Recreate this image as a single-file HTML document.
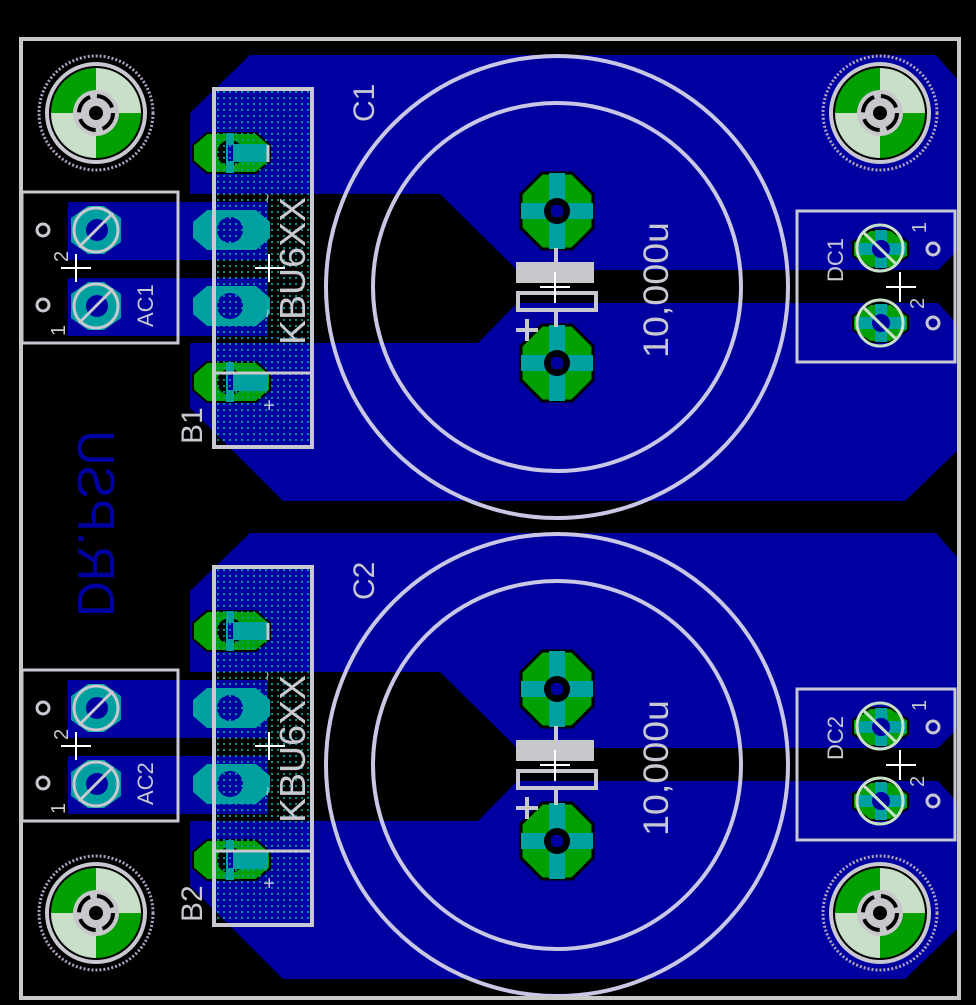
<!DOCTYPE html>
<html><head><meta charset="utf-8"><style>
html,body{margin:0;padding:0;background:#000;}
svg{display:block;}
text{font-family:"Liberation Sans",sans-serif;}
</style></head><body>
<svg width="976" height="1005" viewBox="0 0 976 1005" xmlns="http://www.w3.org/2000/svg">
<defs>
<pattern id="st" width="6" height="6" patternUnits="userSpaceOnUse">
<rect x="1" y="1" width="2" height="2" fill="#00a0a0"/>
</pattern>
</defs>
<rect width="976" height="1005" fill="#000"/>

<!-- ===== HALF 1 ===== -->
<g>
<polygon fill="#0000a0" points="250,55 936,55 958,80 958,250 938,270 517,270 440,194 190,194 190,113"/>
<polygon fill="#0000a0" points="517,303 938,303 958,325 958,450 905,501 283,501 190,408 190,343 478,343"/>
<rect x="68" y="202" width="200" height="58" fill="#0000a0"/>
<rect x="68" y="278" width="200" height="58" fill="#0000a0"/>
<g>
<polygon points="207,133 256,133 270,145 270,161 256,173 207,173 193,161 193,145" fill="#00a000" stroke="#000" stroke-width="2"/>
<polygon points="207,210 256,210 270,222 270,238 256,250 207,250 193,238 193,222" fill="#00a0a0"/>
<polygon points="207,286 256,286 270,298 270,314 256,326 207,326 193,314 193,298" fill="#00a0a0"/>
<polygon points="207,362 256,362 270,374 270,390 256,402 207,402 193,390 193,374" fill="#00a000" stroke="#000" stroke-width="2"/>
<circle cx="230" cy="153" r="13" fill="#000"/>
<circle cx="230" cy="230" r="13" fill="#0000a0"/>
<circle cx="230" cy="306" r="13" fill="#0000a0"/>
<circle cx="230" cy="382" r="13" fill="#000"/>
<rect x="226" y="133" width="8" height="40" fill="#00a0a0"/>
<rect x="226" y="144" width="42" height="18" fill="#00a0a0"/>
<rect x="226" y="362" width="8" height="40" fill="#00a0a0"/>
<rect x="226" y="373" width="42" height="18" fill="#00a0a0"/>
<rect x="228" y="145" width="5" height="16" fill="#0000a0"/>
<rect x="228" y="374" width="5" height="16" fill="#0000a0"/>
</g>
<rect x="214" y="89" width="98" height="358" fill="url(#st)" opacity="0.9"/>
<rect x="214" y="89" width="98" height="358" fill="none" stroke="#c8c8d0" stroke-width="4"/>
<line x1="214" y1="373" x2="312" y2="373" stroke="#c8c8d0" stroke-width="3"/>
<line x1="268" y1="145" x2="268" y2="162" stroke="#c8c8d0" stroke-width="3"/>
<text transform="translate(305,345) rotate(-90)" font-size="36" fill="#c8c8d0" textLength="148" lengthAdjust="spacingAndGlyphs">KBU6XX</text>
<text transform="translate(273,203) rotate(-90)" font-size="16" fill="#c8c8d0">~</text>
<text transform="translate(273,318) rotate(-90)" font-size="16" fill="#c8c8d0">~</text>
<text transform="translate(276,411) rotate(-90)" font-size="20" fill="#c8c8d0">+</text>
<text transform="translate(202,444) rotate(-90)" font-size="30" fill="#c8c8d0">B1</text>
<line x1="255" y1="268" x2="285" y2="268" stroke="#fff" stroke-width="2"/>
<line x1="269" y1="254" x2="269" y2="282" stroke="#fff" stroke-width="2"/>

<rect x="22" y="192" width="156" height="151" fill="none" stroke="#c8c8d0" stroke-width="3"/>
<g>
<polygon points="85,203 107,203 124,216 124,244 107,257 85,257 68,244 68,216" fill="#0000a0"/>
<polygon points="88,206 104,206 121,218 121,242 104,254 88,254 71,242 71,218" fill="#00a0a0"/>
<circle cx="97" cy="230" r="11" fill="#0000a0"/>
<circle cx="96" cy="230" r="22" fill="none" stroke="#c8c8d0" stroke-width="3"/>
<line x1="79" y1="247" x2="113" y2="213" stroke="#c8c8d0" stroke-width="3"/>
<polygon points="85,279 107,279 124,292 124,320 107,333 85,333 68,320 68,292" fill="#0000a0"/>
<polygon points="88,282 104,282 121,294 121,318 104,330 88,330 71,318 71,294" fill="#00a0a0"/>
<circle cx="97" cy="306" r="11" fill="#0000a0"/>
<circle cx="96" cy="306" r="22" fill="none" stroke="#c8c8d0" stroke-width="3"/>
<line x1="79" y1="323" x2="113" y2="289" stroke="#c8c8d0" stroke-width="3"/>
</g>
<circle cx="43" cy="230" r="6" fill="none" stroke="#c8c8d0" stroke-width="3"/>
<circle cx="43" cy="305" r="6" fill="none" stroke="#c8c8d0" stroke-width="3"/>
<text transform="translate(68,262) rotate(-90)" font-size="20" fill="#c8c8d0">2</text>
<text transform="translate(65,336) rotate(-90)" font-size="20" fill="#c8c8d0">1</text>
<text transform="translate(153,327) rotate(-90)" font-size="22" fill="#c8c8d0">AC1</text>
<line x1="61" y1="268" x2="91" y2="268" stroke="#fff" stroke-width="2"/>
<line x1="76" y1="254" x2="76" y2="282" stroke="#fff" stroke-width="2"/>

<circle cx="557" cy="287" r="231" fill="none" stroke="#c8c8e6" stroke-width="4"/>
<circle cx="557" cy="287" r="184" fill="none" stroke="#c8c8e6" stroke-width="4"/>
<g>
<polygon points="542,173 572,173 593,194 593,228 572,249 542,249 521,228 521,194" fill="#00a000" stroke="#000" stroke-width="3"/>
<rect x="521" y="203" width="72" height="16" fill="#00a0a0"/>
<rect x="549" y="173" width="16" height="76" fill="#00a0a0"/>
<circle cx="557" cy="211" r="13" fill="#000"/>
<rect x="553" y="205" width="8" height="12" fill="#0000a0"/><rect x="551" y="207" width="12" height="8" fill="#0000a0"/>
<polygon points="542,325 572,325 593,346 593,380 572,401 542,401 521,380 521,346" fill="#00a000" stroke="#000" stroke-width="3"/>
<rect x="521" y="355" width="72" height="16" fill="#00a0a0"/>
<rect x="549" y="325" width="16" height="76" fill="#00a0a0"/>
<circle cx="557" cy="363" r="13" fill="#000"/>
<rect x="553" y="357" width="8" height="12" fill="#0000a0"/><rect x="551" y="359" width="12" height="8" fill="#0000a0"/>
</g>
<rect x="516" y="262" width="78" height="21" fill="#c8c8cc"/>
<rect x="518" y="293" width="78" height="17" fill="none" stroke="#c8c8d0" stroke-width="4"/>
<line x1="556" y1="248" x2="556" y2="262" stroke="#c8c8d0" stroke-width="4"/>
<line x1="556" y1="311" x2="556" y2="327" stroke="#c8c8d0" stroke-width="4"/>
<line x1="540" y1="287" x2="570" y2="287" stroke="#fff" stroke-width="2"/>
<line x1="555" y1="272" x2="555" y2="303" stroke="#fff" stroke-width="2"/>
<line x1="516" y1="330" x2="538" y2="330" stroke="#c8c8d0" stroke-width="4"/>
<line x1="527" y1="319" x2="527" y2="341" stroke="#c8c8d0" stroke-width="4"/>
<text transform="translate(668,358) rotate(-90)" font-size="35" fill="#c8c8d0" textLength="136" lengthAdjust="spacingAndGlyphs">10,000u</text>
<text transform="translate(374,122) rotate(-90)" font-size="30" fill="#c8c8d0">C1</text>

<rect x="797" y="211" width="158" height="151" fill="none" stroke="#c8c8d0" stroke-width="3"/>
<g>
<polygon points="870,230 891,230 908,242 908,256 891,268 870,268 853,256 853,242" fill="#00a000" stroke="#000" stroke-width="2"/>
<rect x="855" y="243" width="51" height="12" fill="#00a0a0"/><rect x="875" y="230" width="12" height="38" fill="#00a0a0"/>
<circle cx="881" cy="249" r="9" fill="#0000a0"/>
<circle cx="880" cy="248" r="23" fill="none" stroke="#c8e0c8" stroke-width="3"/>
<line x1="863" y1="232" x2="897" y2="265" stroke="#c8e0c8" stroke-width="3"/>
<polygon points="870,304 891,304 908,316 908,330 891,342 870,342 853,330 853,316" fill="#00a000" stroke="#000" stroke-width="2"/>
<rect x="855" y="317" width="51" height="12" fill="#00a0a0"/><rect x="875" y="304" width="12" height="38" fill="#00a0a0"/>
<circle cx="881" cy="323" r="9" fill="#0000a0"/>
<circle cx="880" cy="323" r="23" fill="none" stroke="#c8e0c8" stroke-width="3"/>
<line x1="863" y1="307" x2="897" y2="340" stroke="#c8e0c8" stroke-width="3"/>
</g>
<circle cx="933" cy="249" r="6" fill="none" stroke="#c8c8d0" stroke-width="3"/>
<circle cx="933" cy="323" r="6" fill="none" stroke="#c8c8d0" stroke-width="3"/>
<text transform="translate(926,233) rotate(-90)" font-size="20" fill="#c8c8d0">1</text>
<text transform="translate(924,309) rotate(-90)" font-size="20" fill="#c8c8d0">2</text>
<text transform="translate(843,282) rotate(-90)" font-size="22" fill="#c8c8d0">DC1</text>
<line x1="886" y1="287" x2="916" y2="287" stroke="#fff" stroke-width="2"/>
<line x1="900" y1="272" x2="900" y2="302" stroke="#fff" stroke-width="2"/>
</g>

<!-- ===== HALF 2 ===== -->
<g transform="translate(0,478)">
<polygon fill="#0000a0" points="250,55 936,55 958,80 958,250 938,270 517,270 440,194 190,194 190,113"/>
<polygon fill="#0000a0" points="517,303 938,303 958,325 958,450 905,501 283,501 190,408 190,343 478,343"/>
<rect x="68" y="202" width="200" height="58" fill="#0000a0"/>
<rect x="68" y="278" width="200" height="58" fill="#0000a0"/>
<g>
<polygon points="207,133 256,133 270,145 270,161 256,173 207,173 193,161 193,145" fill="#00a000" stroke="#000" stroke-width="2"/>
<polygon points="207,210 256,210 270,222 270,238 256,250 207,250 193,238 193,222" fill="#00a0a0"/>
<polygon points="207,286 256,286 270,298 270,314 256,326 207,326 193,314 193,298" fill="#00a0a0"/>
<polygon points="207,362 256,362 270,374 270,390 256,402 207,402 193,390 193,374" fill="#00a000" stroke="#000" stroke-width="2"/>
<circle cx="230" cy="153" r="13" fill="#000"/>
<circle cx="230" cy="230" r="13" fill="#0000a0"/>
<circle cx="230" cy="306" r="13" fill="#0000a0"/>
<circle cx="230" cy="382" r="13" fill="#000"/>
<rect x="226" y="133" width="8" height="40" fill="#00a0a0"/>
<rect x="226" y="144" width="42" height="18" fill="#00a0a0"/>
<rect x="226" y="362" width="8" height="40" fill="#00a0a0"/>
<rect x="226" y="373" width="42" height="18" fill="#00a0a0"/>
<rect x="228" y="145" width="5" height="16" fill="#0000a0"/>
<rect x="228" y="374" width="5" height="16" fill="#0000a0"/>
</g>
<rect x="214" y="89" width="98" height="358" fill="url(#st)" opacity="0.9"/>
<rect x="214" y="89" width="98" height="358" fill="none" stroke="#c8c8d0" stroke-width="4"/>
<line x1="214" y1="373" x2="312" y2="373" stroke="#c8c8d0" stroke-width="3"/>
<line x1="268" y1="145" x2="268" y2="162" stroke="#c8c8d0" stroke-width="3"/>
<text transform="translate(305,345) rotate(-90)" font-size="36" fill="#c8c8d0" textLength="148" lengthAdjust="spacingAndGlyphs">KBU6XX</text>
<text transform="translate(273,203) rotate(-90)" font-size="16" fill="#c8c8d0">~</text>
<text transform="translate(273,318) rotate(-90)" font-size="16" fill="#c8c8d0">~</text>
<text transform="translate(276,411) rotate(-90)" font-size="20" fill="#c8c8d0">+</text>
<text transform="translate(202,444) rotate(-90)" font-size="30" fill="#c8c8d0">B2</text>
<line x1="255" y1="268" x2="285" y2="268" stroke="#fff" stroke-width="2"/>
<line x1="269" y1="254" x2="269" y2="282" stroke="#fff" stroke-width="2"/>

<rect x="22" y="192" width="156" height="151" fill="none" stroke="#c8c8d0" stroke-width="3"/>
<g>
<polygon points="85,203 107,203 124,216 124,244 107,257 85,257 68,244 68,216" fill="#0000a0"/>
<polygon points="88,206 104,206 121,218 121,242 104,254 88,254 71,242 71,218" fill="#00a0a0"/>
<circle cx="97" cy="230" r="11" fill="#0000a0"/>
<circle cx="96" cy="230" r="22" fill="none" stroke="#c8c8d0" stroke-width="3"/>
<line x1="79" y1="247" x2="113" y2="213" stroke="#c8c8d0" stroke-width="3"/>
<polygon points="85,279 107,279 124,292 124,320 107,333 85,333 68,320 68,292" fill="#0000a0"/>
<polygon points="88,282 104,282 121,294 121,318 104,330 88,330 71,318 71,294" fill="#00a0a0"/>
<circle cx="97" cy="306" r="11" fill="#0000a0"/>
<circle cx="96" cy="306" r="22" fill="none" stroke="#c8c8d0" stroke-width="3"/>
<line x1="79" y1="323" x2="113" y2="289" stroke="#c8c8d0" stroke-width="3"/>
</g>
<circle cx="43" cy="230" r="6" fill="none" stroke="#c8c8d0" stroke-width="3"/>
<circle cx="43" cy="305" r="6" fill="none" stroke="#c8c8d0" stroke-width="3"/>
<text transform="translate(68,262) rotate(-90)" font-size="20" fill="#c8c8d0">2</text>
<text transform="translate(65,336) rotate(-90)" font-size="20" fill="#c8c8d0">1</text>
<text transform="translate(153,327) rotate(-90)" font-size="22" fill="#c8c8d0">AC2</text>
<line x1="61" y1="268" x2="91" y2="268" stroke="#fff" stroke-width="2"/>
<line x1="76" y1="254" x2="76" y2="282" stroke="#fff" stroke-width="2"/>

<circle cx="557" cy="287" r="231" fill="none" stroke="#c8c8e6" stroke-width="4"/>
<circle cx="557" cy="287" r="184" fill="none" stroke="#c8c8e6" stroke-width="4"/>
<g>
<polygon points="542,173 572,173 593,194 593,228 572,249 542,249 521,228 521,194" fill="#00a000" stroke="#000" stroke-width="3"/>
<rect x="521" y="203" width="72" height="16" fill="#00a0a0"/>
<rect x="549" y="173" width="16" height="76" fill="#00a0a0"/>
<circle cx="557" cy="211" r="13" fill="#000"/>
<rect x="553" y="205" width="8" height="12" fill="#0000a0"/><rect x="551" y="207" width="12" height="8" fill="#0000a0"/>
<polygon points="542,325 572,325 593,346 593,380 572,401 542,401 521,380 521,346" fill="#00a000" stroke="#000" stroke-width="3"/>
<rect x="521" y="355" width="72" height="16" fill="#00a0a0"/>
<rect x="549" y="325" width="16" height="76" fill="#00a0a0"/>
<circle cx="557" cy="363" r="13" fill="#000"/>
<rect x="553" y="357" width="8" height="12" fill="#0000a0"/><rect x="551" y="359" width="12" height="8" fill="#0000a0"/>
</g>
<rect x="516" y="262" width="78" height="21" fill="#c8c8cc"/>
<rect x="518" y="293" width="78" height="17" fill="none" stroke="#c8c8d0" stroke-width="4"/>
<line x1="556" y1="248" x2="556" y2="262" stroke="#c8c8d0" stroke-width="4"/>
<line x1="556" y1="311" x2="556" y2="327" stroke="#c8c8d0" stroke-width="4"/>
<line x1="540" y1="287" x2="570" y2="287" stroke="#fff" stroke-width="2"/>
<line x1="555" y1="272" x2="555" y2="303" stroke="#fff" stroke-width="2"/>
<line x1="516" y1="330" x2="538" y2="330" stroke="#c8c8d0" stroke-width="4"/>
<line x1="527" y1="319" x2="527" y2="341" stroke="#c8c8d0" stroke-width="4"/>
<text transform="translate(668,358) rotate(-90)" font-size="35" fill="#c8c8d0" textLength="136" lengthAdjust="spacingAndGlyphs">10,000u</text>
<text transform="translate(374,122) rotate(-90)" font-size="30" fill="#c8c8d0">C2</text>

<rect x="797" y="211" width="158" height="151" fill="none" stroke="#c8c8d0" stroke-width="3"/>
<g>
<polygon points="870,230 891,230 908,242 908,256 891,268 870,268 853,256 853,242" fill="#00a000" stroke="#000" stroke-width="2"/>
<rect x="855" y="243" width="51" height="12" fill="#00a0a0"/><rect x="875" y="230" width="12" height="38" fill="#00a0a0"/>
<circle cx="881" cy="249" r="9" fill="#0000a0"/>
<circle cx="880" cy="248" r="23" fill="none" stroke="#c8e0c8" stroke-width="3"/>
<line x1="863" y1="232" x2="897" y2="265" stroke="#c8e0c8" stroke-width="3"/>
<polygon points="870,304 891,304 908,316 908,330 891,342 870,342 853,330 853,316" fill="#00a000" stroke="#000" stroke-width="2"/>
<rect x="855" y="317" width="51" height="12" fill="#00a0a0"/><rect x="875" y="304" width="12" height="38" fill="#00a0a0"/>
<circle cx="881" cy="323" r="9" fill="#0000a0"/>
<circle cx="880" cy="323" r="23" fill="none" stroke="#c8e0c8" stroke-width="3"/>
<line x1="863" y1="307" x2="897" y2="340" stroke="#c8e0c8" stroke-width="3"/>
</g>
<circle cx="933" cy="249" r="6" fill="none" stroke="#c8c8d0" stroke-width="3"/>
<circle cx="933" cy="323" r="6" fill="none" stroke="#c8c8d0" stroke-width="3"/>
<text transform="translate(926,233) rotate(-90)" font-size="20" fill="#c8c8d0">1</text>
<text transform="translate(924,309) rotate(-90)" font-size="20" fill="#c8c8d0">2</text>
<text transform="translate(843,282) rotate(-90)" font-size="22" fill="#c8c8d0">DC2</text>
<line x1="886" y1="287" x2="916" y2="287" stroke="#fff" stroke-width="2"/>
<line x1="900" y1="272" x2="900" y2="302" stroke="#fff" stroke-width="2"/>
</g>

<!-- Mounting holes -->
<g transform="translate(96,113)">
<circle r="57" fill="none" stroke="#b0a0c0" stroke-width="3" stroke-dasharray="2 2"/>
<circle r="51" fill="#c8c8d0"/>
<circle r="47" fill="#000"/>
<path d="M0,0 L0,-45 A45,45 0 0 0 -45,0 Z" fill="#00a000"/>
<path d="M0,0 L45,0 A45,45 0 0 1 0,45 Z" fill="#00a000"/>
<path d="M0,0 L45,0 A45,45 0 0 0 0,-45 Z" fill="#c8e0c8"/>
<path d="M0,0 L0,45 A45,45 0 0 1 -45,0 Z" fill="#c8e0c8"/>
<circle r="23" fill="#c8c8cc"/>
<circle r="17" fill="none" stroke="#000" stroke-width="4" stroke-dasharray="20 7"/>
<circle r="7" fill="#000"/>
</g>
<g transform="translate(880,113)">
<circle r="57" fill="none" stroke="#b0a0c0" stroke-width="3" stroke-dasharray="2 2"/>
<circle r="51" fill="#c8c8d0"/>
<circle r="47" fill="#000"/>
<path d="M0,0 L0,-45 A45,45 0 0 0 -45,0 Z" fill="#00a000"/>
<path d="M0,0 L45,0 A45,45 0 0 1 0,45 Z" fill="#00a000"/>
<path d="M0,0 L45,0 A45,45 0 0 0 0,-45 Z" fill="#c8e0c8"/>
<path d="M0,0 L0,45 A45,45 0 0 1 -45,0 Z" fill="#c8e0c8"/>
<circle r="23" fill="#c8c8cc"/>
<circle r="17" fill="none" stroke="#000" stroke-width="4" stroke-dasharray="20 7"/>
<circle r="7" fill="#000"/>
</g>
<g transform="translate(96,913)">
<circle r="57" fill="none" stroke="#b0a0c0" stroke-width="3" stroke-dasharray="2 2"/>
<circle r="51" fill="#c8c8d0"/>
<circle r="47" fill="#000"/>
<path d="M0,0 L0,-45 A45,45 0 0 0 -45,0 Z" fill="#00a000"/>
<path d="M0,0 L45,0 A45,45 0 0 1 0,45 Z" fill="#00a000"/>
<path d="M0,0 L45,0 A45,45 0 0 0 0,-45 Z" fill="#c8e0c8"/>
<path d="M0,0 L0,45 A45,45 0 0 1 -45,0 Z" fill="#c8e0c8"/>
<circle r="23" fill="#c8c8cc"/>
<circle r="17" fill="none" stroke="#000" stroke-width="4" stroke-dasharray="20 7"/>
<circle r="7" fill="#000"/>
</g>
<g transform="translate(880,913)">
<circle r="57" fill="none" stroke="#b0a0c0" stroke-width="3" stroke-dasharray="2 2"/>
<circle r="51" fill="#c8c8d0"/>
<circle r="47" fill="#000"/>
<path d="M0,0 L0,-45 A45,45 0 0 0 -45,0 Z" fill="#00a000"/>
<path d="M0,0 L45,0 A45,45 0 0 1 0,45 Z" fill="#00a000"/>
<path d="M0,0 L45,0 A45,45 0 0 0 0,-45 Z" fill="#c8e0c8"/>
<path d="M0,0 L0,45 A45,45 0 0 1 -45,0 Z" fill="#c8e0c8"/>
<circle r="23" fill="#c8c8cc"/>
<circle r="17" fill="none" stroke="#000" stroke-width="4" stroke-dasharray="20 7"/>
<circle r="7" fill="#000"/>
</g>

<text transform="translate(78,617) rotate(-90) scale(1,-1)" font-size="52" fill="#0000a0" textLength="187" lengthAdjust="spacingAndGlyphs">DR.PSU</text>

<rect x="21" y="39" width="938" height="959" fill="none" stroke="#c8c8c8" stroke-width="4"/>
</svg>
</body></html>
